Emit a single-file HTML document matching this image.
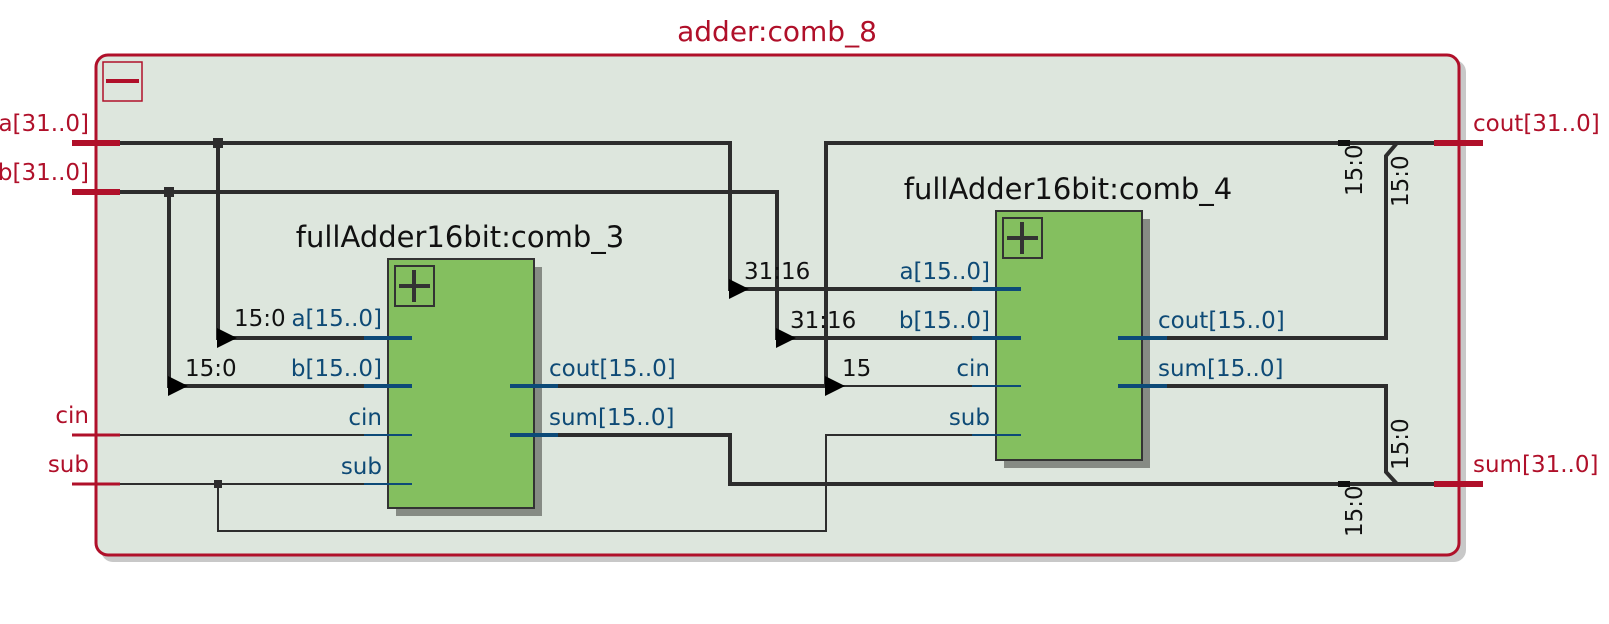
<!DOCTYPE html>
<html><head><meta charset="utf-8"><style>
html,body{margin:0;padding:0;background:#fff;}
svg{display:block;}
text{font-family:"DejaVu Sans","Liberation Sans",sans-serif;}
.r{fill:#b0102a;font-size:23px;}
.k{fill:#111;font-size:23px;}
.p{fill:#0e4a76;font-size:23px;}
.t{fill:#111;font-size:29px;}
.w{stroke:#2d2d2d;stroke-width:4;fill:none;}
.n{stroke:#2d2d2d;stroke-width:2;fill:none;}
.bs{stroke:#0d4a78;stroke-width:4;}
.bn{stroke:#0d4a78;stroke-width:2;}
.rs{stroke:#b0102a;stroke-width:6;}
</style></head><body>
<svg width="1609" height="624" viewBox="0 0 1609 624">
<rect x="101" y="60" width="1365" height="502" rx="12" fill="#c8c8c8"/>
<rect x="96" y="55" width="1363" height="500" rx="12" fill="#dde6dd" stroke="#b0102a" stroke-width="3"/>
<text x="777" y="41" class="r" text-anchor="middle" style="font-size:28px">adder:comb_8</text>
<rect x="103" y="62" width="39" height="39" fill="none" stroke="#b0102a" stroke-width="1.5"/>
<line x1="106" y1="81" x2="139" y2="81" stroke="#b0102a" stroke-width="4"/>

<line x1="72" y1="143" x2="120" y2="143" class="rs"/>
<line x1="72" y1="192" x2="120" y2="192" class="rs"/>
<line x1="72" y1="435" x2="120" y2="435" class="rs" style="stroke-width:3"/>
<line x1="72" y1="484" x2="120" y2="484" class="rs" style="stroke-width:3"/>
<text x="89" y="131" class="r" text-anchor="end">a[31..0]</text>
<text x="89" y="180" class="r" text-anchor="end">b[31..0]</text>
<text x="89" y="423" class="r" text-anchor="end">cin</text>
<text x="89" y="472" class="r" text-anchor="end">sub</text>

<line x1="1434" y1="143" x2="1483" y2="143" class="rs"/>
<line x1="1434" y1="484" x2="1483" y2="484" class="rs"/>
<text x="1473" y="131" class="r">cout[31..0]</text>
<text x="1473" y="472" class="r">sum[31..0]</text>

<polyline points="120,143 730,143 730,289 996,289" class="w"/>
<polyline points="120,192 777,192 777,338 996,338" class="w"/>
<polyline points="218,143 218,338 388,338" class="w"/>
<polyline points="169,192 169,386 388,386" class="w"/>
<rect x="213" y="138" width="10" height="10" fill="#2d2d2d"/>
<rect x="164" y="187" width="10" height="10" fill="#2d2d2d"/>
<line x1="120" y1="435" x2="388" y2="435" class="n"/>
<polyline points="120,484 388,484" class="n"/>
<polyline points="218,484 218,531 826,531 826,435 996,435" class="n"/>
<rect x="214" y="480" width="8" height="8" fill="#2d2d2d"/>
<polyline points="558,386 826,386" class="w"/>
<line x1="836" y1="386" x2="996" y2="386" class="n"/>
<polyline points="1434,143 826,143 826,386" class="w"/>
<polyline points="558,435 730,435 730,484 1434,484" class="w"/>
<polyline points="1167,338 1386,338 1386,156 1397,143" class="w"/>
<polyline points="1167,386 1386,386 1386,472 1397,484" class="w"/>
<rect x="1338" y="140" width="12" height="6" fill="#111"/>
<rect x="1338" y="481" width="12" height="6" fill="#111"/>

<polygon points="217,328 237,338 217,348" fill="#000"/>
<polygon points="168,376 188,386 168,396" fill="#000"/>
<polygon points="729,279 749,289 729,299" fill="#000"/>
<polygon points="776,328 796,338 776,348" fill="#000"/>
<polygon points="825,376 845,386 825,396" fill="#000"/>

<text x="234" y="326" class="k">15:0</text>
<text x="185" y="376" class="k">15:0</text>
<text x="744" y="279" class="k">31:16</text>
<text x="790" y="328" class="k">31:16</text>
<text x="842" y="376" class="k">15</text>
<text transform="translate(1362,196) rotate(-90)" class="k">15:0</text>
<text transform="translate(1408,207) rotate(-90)" class="k">15:0</text>
<text transform="translate(1408,470) rotate(-90)" class="k">15:0</text>
<text transform="translate(1362,537) rotate(-90)" class="k">15:0</text>

<rect x="396" y="267" width="146" height="249" fill="#868b84"/>
<rect x="388" y="259" width="146" height="249" fill="#84bf5f" stroke="#333" stroke-width="2"/>
<rect x="395" y="266" width="39" height="40" fill="none" stroke="#333" stroke-width="2"/>
<line x1="399" y1="286" x2="430" y2="286" stroke="#333" stroke-width="4"/>
<line x1="414" y1="270" x2="414" y2="302" stroke="#333" stroke-width="4"/>
<text x="460" y="247" class="t" text-anchor="middle">fullAdder16bit:comb_3</text>
<line x1="364" y1="338" x2="412" y2="338" class="bs"/>
<line x1="364" y1="386" x2="412" y2="386" class="bs"/>
<line x1="364" y1="435" x2="412" y2="435" class="bn"/>
<line x1="364" y1="484" x2="412" y2="484" class="bn"/>
<line x1="510" y1="386" x2="558" y2="386" class="bs"/>
<line x1="510" y1="435" x2="558" y2="435" class="bs"/>
<text x="382" y="326" class="p" text-anchor="end">a[15..0]</text>
<text x="382" y="376" class="p" text-anchor="end">b[15..0]</text>
<text x="382" y="425" class="p" text-anchor="end">cin</text>
<text x="382" y="474" class="p" text-anchor="end">sub</text>
<text x="549" y="376" class="p">cout[15..0]</text>
<text x="549" y="425" class="p">sum[15..0]</text>

<rect x="1004" y="219" width="146" height="249" fill="#868b84"/>
<rect x="996" y="211" width="146" height="249" fill="#84bf5f" stroke="#333" stroke-width="2"/>
<rect x="1003" y="218" width="39" height="40" fill="none" stroke="#333" stroke-width="2"/>
<line x1="1007" y1="238" x2="1038" y2="238" stroke="#333" stroke-width="4"/>
<line x1="1022" y1="222" x2="1022" y2="254" stroke="#333" stroke-width="4"/>
<text x="1068" y="199" class="t" text-anchor="middle">fullAdder16bit:comb_4</text>
<line x1="972" y1="289" x2="1021" y2="289" class="bs"/>
<line x1="972" y1="338" x2="1021" y2="338" class="bs"/>
<line x1="972" y1="386" x2="1021" y2="386" class="bn"/>
<line x1="972" y1="435" x2="1021" y2="435" class="bn"/>
<line x1="1118" y1="338" x2="1167" y2="338" class="bs"/>
<line x1="1118" y1="386" x2="1167" y2="386" class="bs"/>
<text x="990" y="279" class="p" text-anchor="end">a[15..0]</text>
<text x="990" y="328" class="p" text-anchor="end">b[15..0]</text>
<text x="990" y="376" class="p" text-anchor="end">cin</text>
<text x="990" y="425" class="p" text-anchor="end">sub</text>
<text x="1158" y="328" class="p">cout[15..0]</text>
<text x="1158" y="376" class="p">sum[15..0]</text>
</svg>
</body></html>
